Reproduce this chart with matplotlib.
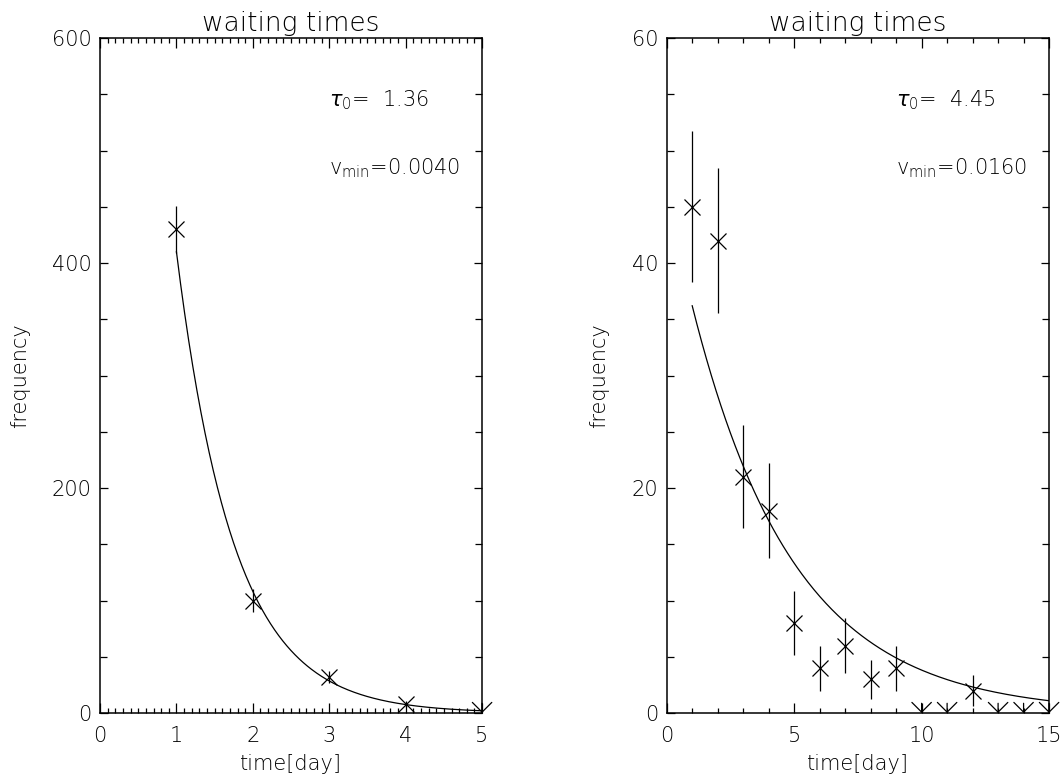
import numpy as np
import matplotlib
matplotlib.use('Agg')
import matplotlib.pyplot as plt
from matplotlib.ticker import MultipleLocator

# left panel data
days_a = [1, 2, 3, 4, 5]
freq_a = [430, 100, 32, 8, 0]
tau_a = '1.36'
vmin_a = '0.0040'
fit_a = (410.0, 0.75)   # value at t=1, decay scale of drawn fit curve

# right panel data
days_b = [1, 2, 3, 4, 5, 6, 7, 8, 9, 10, 11, 12, 13, 14, 15]
freq_b = [45, 42, 21, 18, 8, 4, 6, 3, 4, 0, 0, 2, 0, 0, 0]
tau_b = '4.45'
vmin_b = '0.0160'
fit_b = (36.2, 4.0)

plt.rcParams['font.family'] = 'DejaVu Sans'
plt.rcParams['font.weight'] = 'light'
plt.rcParams['axes.titleweight'] = 'light'
plt.rcParams['axes.labelweight'] = 'light'
plt.rcParams['mathtext.fontset'] = 'custom'
plt.rcParams['mathtext.rm'] = 'DejaVu Sans:light'
plt.rcParams['mathtext.it'] = 'DejaVu Sans:light:italic'
plt.rcParams['mathtext.default'] = 'it'
fig = plt.figure(figsize=(10.63, 7.79), dpi=100)


def panel(rect, days, freq, tau, vmin, fit, xmax, ymax, xmaj, xmin_, ymaj, ymin_):
    ax = fig.add_axes(rect)
    days = np.array(days, dtype=float)
    freq = np.array(freq, dtype=float)
    pos = freq > 0
    ax.errorbar(days[pos], freq[pos], yerr=np.sqrt(freq[pos]), fmt='x',
                color='black', ms=11, mew=0.9, elinewidth=0.9, capsize=0,
                clip_on=False)
    # zero counts drawn as down arrows
    for d, f in zip(days[~pos], freq[~pos]):
        ax.annotate('', xy=(d, f), xytext=(0, 7), textcoords='offset points',
                    annotation_clip=False,
                    arrowprops=dict(arrowstyle='->,head_length=0.7,head_width=0.7',
                                    color='black', lw=0.9, shrinkA=0, shrinkB=0))
    t = np.linspace(days[0], xmax, 300)
    y0, sc = fit
    ax.plot(t, y0 * np.exp(-(t - days[0]) / sc), color='black', lw=0.9)

    ax.set_xlim(0, xmax)
    ax.set_ylim(0, ymax)
    ax.xaxis.set_major_locator(MultipleLocator(xmaj))
    ax.xaxis.set_minor_locator(MultipleLocator(xmin_))
    ax.yaxis.set_major_locator(MultipleLocator(ymaj))
    ax.yaxis.set_minor_locator(MultipleLocator(ymin_))
    ax.tick_params(which='both', direction='in', top=True, right=True,
                   labelsize=15, width=0.9, colors='black')
    ax.tick_params(axis='x', which='major', length=7, pad=9)
    ax.tick_params(axis='x', which='minor', length=3.6)
    ax.tick_params(axis='y', which='major', length=5.5, pad=6)
    ax.tick_params(axis='y', which='minor', length=5)
    for s in ax.spines.values():
        s.set_linewidth(1.1)

    ax.set_title('waiting times', fontsize=19, pad=5)
    ax.set_xlabel('time[day]', fontsize=15, labelpad=6)
    ax.set_ylabel('frequency', fontsize=15, labelpad=16)
    ax.text(0.6, 0.908, r'$\tau_{\rm 0}$= ' + ' ' + tau, transform=ax.transAxes,
            fontsize=15, va='center')
    ax.text(0.6, 0.807, r'v$_{\rm min}$=' + vmin, transform=ax.transAxes,
            fontsize=15, va='center')
    return ax


panel([0.0941, 0.0847, 0.3594, 0.8665], days_a, freq_a, tau_a, vmin_a, fit_a,
      5, 600, 1, 0.1, 200, 50)
panel([0.6272, 0.0847, 0.3597, 0.8665], days_b, freq_b, tau_b, vmin_b, fit_b,
      15, 60, 5, 1, 20, 5)

fig.savefig('out.png', dpi=100)
